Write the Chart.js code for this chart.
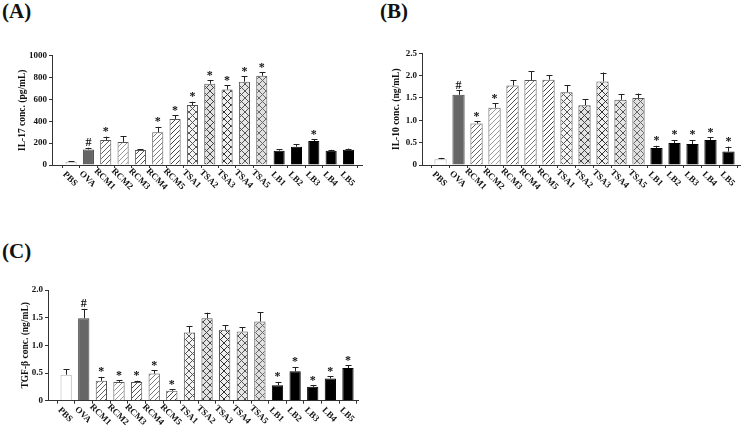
<!DOCTYPE html>
<html>
<head>
<meta charset="utf-8">
<script src="https://cdn.jsdelivr.net/npm/chart.js@4/dist/chart.umd.min.js"></script>
<style>
  html,body{margin:0;padding:0;background:#fff;width:745px;height:433px;overflow:hidden;}
  canvas{position:absolute;left:0;top:0;}
  .ptitle{position:absolute;font-family:"Liberation Serif",serif;font-weight:bold;font-size:21px;line-height:1;color:#111;}
</style>
</head>
<body>
<div class="ptitle" style="left:2px;top:1px;">(A)</div>
<div class="ptitle" style="left:380px;top:1px;">(B)</div>
<div class="ptitle" style="left:2px;top:241px;">(C)</div>
<canvas id="cA" width="745" height="433"></canvas>
<canvas id="cB" width="745" height="433"></canvas>
<canvas id="cC" width="745" height="433"></canvas>
<script>
// ---------- DATA ----------
const categories = ['PBS','OVA','RCM1','RCM2','RCM3','RCM4','RCM5','TSA1','TSA2','TSA3','TSA4','TSA5','LB1','LB2','LB3','LB4','LB5'];

const il17Values = [30,142,229,211,138,298,421,548,743,689,761,815,131,167,219,131,140];
const il17Errors = [4,15,30,50,6,50,35,30,30,40,50,30,12,25,16,8,10];
const il17Marks  = ['','#','*','','','*','*','*','*','*','*','*','','','*','',''];
const il17Ticks  = [0,200,400,600,800,1000];

const il10Values = [0.13,1.57,0.93,1.28,1.78,1.90,1.91,1.63,1.34,1.87,1.46,1.50,0.38,0.49,0.47,0.56,0.30];
const il10Errors = [0.03,0.10,0.05,0.10,0.12,0.20,0.10,0.15,0.13,0.20,0.13,0.10,0.05,0.07,0.09,0.06,0.11];
const il10Marks  = ['','#','*','*','','','','','','','','','*','*','*','*','*'];
const il10Ticks  = [0,0.5,1.0,1.5,2.0,2.5];

const tgfValues = [0.47,1.49,0.36,0.34,0.34,0.49,0.18,1.23,1.49,1.28,1.25,1.43,0.28,0.53,0.25,0.40,0.59];
const tgfErrors = [0.10,0.17,0.07,0.03,0.02,0.06,0.03,0.12,0.10,0.08,0.08,0.17,0.06,0.08,0.03,0.04,0.05];
const tgfMarks  = ['','#','*','*','*','*','*','','','','','','*','*','*','*','*'];
const tgfTicks  = [0,0.5,1.0,1.5,2.0];

// ---------- STYLES ----------
const SERIF = '"Liberation Serif","Times New Roman",serif';
function pattern(bg, fg, s, kind, lw){
  const c = document.createElement('canvas'); c.width = s; c.height = s;
  const g = c.getContext('2d');
  g.fillStyle = bg; g.fillRect(0,0,s,s);
  g.strokeStyle = fg; g.lineWidth = lw || 1;
  g.beginPath();
  if (kind.indexOf('/') >= 0){
    g.moveTo(-1, s+1); g.lineTo(s+1, -1);
    g.moveTo(-1, 1); g.lineTo(1, -1);
    g.moveTo(s-1, s+1); g.lineTo(s+1, s-1);
  }
  if (kind.indexOf('\\') >= 0){
    g.moveTo(-1, -1); g.lineTo(s+1, s+1);
    g.moveTo(s-1, -1); g.lineTo(s+1, 1);
    g.moveTo(-1, s-1); g.lineTo(1, s+1);
  }
  g.stroke();
  return g.createPattern(c, 'repeat');
}
function groupStyles(){
  const fills = [
    '#ffffff',
    '#666666',
    pattern('#ffffff','#666666',5,'/'),
    pattern('#ffffff','#9a9a9a',5,'/'),
    pattern('#ffffff','#555555',5,'/'),
    pattern('#ffffff','#7a7a7a',5,'/'),
    pattern('#ffffff','#444444',5,'/'),
    pattern('#f4f4f4','#555555',7,'/\\'),
    pattern('#e2e2e2','#444444',7,'/\\'),
    pattern('#f0f0f0','#333333',7,'/\\'),
    pattern('#e6e6e6','#555555',7,'/\\'),
    pattern('#e0e0e0','#666666',7,'/\\'),
    '#000000','#000000','#000000','#000000','#000000'
  ];
  const borders = categories.map((c,i)=> i===0 ? '#b0b0b0' : (i===1 ? '#444444' : (i>=12 ? '#000000' : '#555555')));
  return {fills, borders};
}

// ---------- PLUGINS ----------
const overlayPlugin = {
  id: 'overlay',
  afterDatasetsDraw(chart){
    const o = chart.options.plugins.overlay;
    const ctx = chart.ctx;
    const ys = chart.scales.y;
    const meta = chart.getDatasetMeta(0);
    ctx.save();
    meta.data.forEach((el, i) => {
      const v = o.values[i], e = o.errors[i];
      const yTop = ys.getPixelForValue(v);
      const yErr = ys.getPixelForValue(v + e);
      ctx.strokeStyle = '#222'; ctx.lineWidth = 1;
      ctx.beginPath();
      ctx.moveTo(Math.round(el.x)+0.5, yTop);
      ctx.lineTo(Math.round(el.x)+0.5, yErr);
      ctx.moveTo(Math.round(el.x)-2.5, Math.round(yErr)+0.5);
      ctx.lineTo(Math.round(el.x)+3.5, Math.round(yErr)+0.5);
      ctx.stroke();
      const m = o.marks[i];
      if (m){
        ctx.fillStyle = '#111';
        ctx.font = 'bold 12px ' + SERIF;
        ctx.textAlign = 'center';
        ctx.textBaseline = 'alphabetic';
        ctx.fillText(m, el.x, yErr - 1.5);
      }
    });
    // rotated category labels
    const xs = chart.scales.x;
    ctx.fillStyle = '#111';
    ctx.font = 'bold 9px ' + SERIF;
    ctx.textAlign = 'center';
    ctx.textBaseline = 'middle';
    categories.forEach((lab, i) => {
      const x = xs.getPixelForValue(i) - 1;
      const y = chart.chartArea.bottom + 14;
      ctx.save();
      ctx.translate(x, y);
      ctx.rotate(Math.PI/4);
      ctx.fillText(lab, 0, 0);
      ctx.restore();
    });
    ctx.restore();
  }
};

function makeChart(id, cfg){
  const st = groupStyles();
  const data = cfg.values.map((v,i)=>({x:i, y:v}));
  const boundaries = [];
  for (let b = -0.5; b <= categories.length - 0.5; b += 1) boundaries.push(b);
  return new Chart(document.getElementById(id), {
    type: 'bar',
    data: {
      datasets: [{
        data: data,
        backgroundColor: st.fills,
        borderColor: st.borders,
        borderWidth: 1,
        barPercentage: cfg.barPct,
        categoryPercentage: 1
      }]
    },
    options: {
      responsive: false,
      animation: false,
      devicePixelRatio: 1,
      layout: { padding: cfg.padding },
      plugins: {
        legend: { display: false },
        tooltip: { enabled: false },
        overlay: { values: cfg.values, errors: cfg.errors, marks: cfg.marks }
      },
      scales: {
        x: {
          type: 'linear',
          min: cfg.xmin, max: cfg.xmax,
          offset: false,
          afterBuildTicks: (s) => { s.ticks = boundaries.map(v => ({value: v})); },
          afterFit: (s) => { s.height = 6; },
          ticks: { display: false },
          grid: { offset: false, drawOnChartArea: false, drawTicks: true, tickLength: 3, color: '#333', lineWidth: 1 },
          border: { display: true, color: '#333', width: 1 }
        },
        y: {
          min: 0, max: cfg.ticks[cfg.ticks.length-1],
          afterBuildTicks: (s) => { s.ticks = cfg.ticks.map(v => ({value: v})); },
          afterFit: (s) => { s.width = cfg.yWidth; },
          ticks: {
            font: { family: SERIF, size: 9, weight: 'bold' },
            color: '#111',
            padding: 2,
            callback: cfg.fmt
          },
          grid: { drawOnChartArea: false, drawTicks: true, tickLength: 3, color: '#333' },
          border: { display: true, color: '#333', width: 1 },
          title: {
            display: true,
            text: cfg.title,
            font: { family: SERIF, size: 9.5, weight: 'bold' },
            color: '#111',
            padding: { top: cfg.titlePad, bottom: 0 }
          }
        }
      }
    },
    plugins: [overlayPlugin]
  });
}

const intFmt = (v) => String(v);
const decFmt = (v) => v === 0 ? '0' : v.toFixed(1);

makeChart('cA', {
  values: il17Values, errors: il17Errors, marks: il17Marks, ticks: il17Ticks, fmt: intFmt,
  title: 'IL-17 conc. (pg/mL)', titlePad: 17,
  padding: { left: 0, top: 55.5, right: 383, bottom: 262 },
  yWidth: 52, xmin: -1.1, xmax: 16.78, barPct: 0.64
});
makeChart('cB', {
  values: il10Values, errors: il10Errors, marks: il10Marks, ticks: il10Ticks, fmt: decFmt,
  title: 'IL-10 conc. (ng/mL)', titlePad: 20.5,
  padding: { left: 370, top: 53.3, right: 5, bottom: 262 },
  yWidth: 52, xmin: -1.03, xmax: 16.64, barPct: 0.68
});
makeChart('cC', {
  values: tgfValues, errors: tgfErrors, marks: tgfMarks, ticks: tgfTicks, fmt: decFmt,
  title: 'TGF-β conc. (ng/mL)', titlePad: 20,
  padding: { left: 0, top: 290, right: 387, bottom: 26.3 },
  yWidth: 48, xmin: -1.03, xmax: 16.57, barPct: 0.64
});
</script>
</body>
</html>
